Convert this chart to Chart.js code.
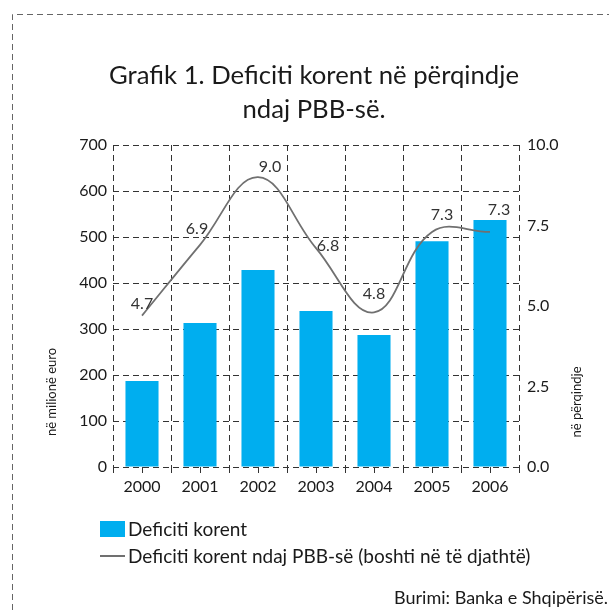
<!DOCTYPE html>
<html>
<head>
<meta charset="utf-8">
<script src="https://cdn.jsdelivr.net/npm/chart.js@4.4.1/dist/chart.umd.min.js"></script>
<style>
  html, body { margin: 0; padding: 0; background: #fff; }
  body { width: 609px; height: 614px; position: relative; overflow: hidden; font-family: Lato, "Noto Sans", sans-serif; color: #1a1a1a; }
  #chart { position: absolute; left: 0; top: 0; }
  .txt { position: absolute; white-space: nowrap; }
  #title { left: 0; width: 628px; top: 57px; text-align: center; font-size: 25.7px; line-height: 34px; }
  #leg { left: 100px; top: 515px; font-size: 19px; line-height: 27px; }
  #leg .row { display: flex; align-items: center; height: 27px; }
  #leg .box { width: 25px; height: 16px; background: #00aeef; margin-right: 3px; }
  #leg .ln { width: 25px; height: 2px; background: #707070; margin-right: 3px; }
  #src { right: 1px; top: 586px; font-size: 18px; }
</style>
</head>
<body>
<canvas id="chart" width="609" height="614"></canvas>
<div id="title" class="txt">Grafik 1. Deficiti korent në përqindje<br>ndaj PBB-së.</div>
<div id="leg" class="txt">
  <div class="row"><span class="box"></span>Deficiti korent</div>
  <div class="row"><span class="ln"></span>Deficiti korent ndaj PBB-së (boshti në të djathtë)</div>
</div>
<div id="src" class="txt">Burimi: Banka e Shqipërisë.</div>
<script>
const vitet = ['2000', '2001', '2002', '2003', '2004', '2005', '2006'];
const deficitiEuro = [187, 313, 428, 339, 287, 491, 537];     // në milionë euro
const deficitiPerqind = [4.7, 6.9, 9.0, 6.8, 4.8, 7.3, 7.3];  // në përqindje të PBB-së
const boshtiMajtas = { min: 0, max: 700, hapi: 100 };
const boshtiDjathtas = { min: 0, max: 10, hapi: 2.5 };

const font = 'Lato, "Noto Sans", sans-serif';
const dash = [6, 4];

// korniza me vija, etiketat e vijes dhe titujt e boshteve
const shtese = {
  id: 'shtese',
  beforeDraw(chart) {
    const c = chart.ctx;
    c.save();
    c.strokeStyle = '#666';
    c.lineWidth = 1;
    c.setLineDash([6, 4]);
    c.beginPath();
    c.moveTo(12.5, 620);
    c.lineTo(12.5, 14.5);
    c.lineTo(620, 14.5);
    c.stroke();
    c.restore();
  },
  afterDraw(chart) {
    const c = chart.ctx;
    const x = chart.scales.x;
    const area = chart.chartArea;
    c.save();
    // vizat e vogla nen kategori
    c.strokeStyle = '#333';
    c.lineWidth = 1;
    vitet.forEach((v, i) => {
      const px = Math.round(x.getPixelForValue(i)) + 0.5;
      c.beginPath();
      c.moveTo(px, area.bottom);
      c.lineTo(px, area.bottom + 6);
      c.stroke();
    });
    // etiketat e vijes
    const offs = [[0, -12], [-3, -16], [12, -10], [12, -2], [0, -19], [10, -17], [9, -22]];
    const meta = chart.getDatasetMeta(1);
    c.fillStyle = '#333';
    c.font = '16px ' + font;
    c.textAlign = 'center';
    c.textBaseline = 'middle';
    meta.data.forEach((p, i) => {
      c.fillText(deficitiPerqind[i].toFixed(1), p.x + offs[i][0], p.y + offs[i][1]);
    });
    // titujt e boshteve
    c.font = '13px ' + font;
    c.fillStyle = '#1a1a1a';
    c.translate(52, 392);
    c.rotate(-Math.PI / 2);
    c.fillText('në milionë euro', 0, 0);
    c.restore();
    c.save();
    c.font = '13px ' + font;
    c.fillStyle = '#1a1a1a';
    c.textAlign = 'center';
    c.textBaseline = 'middle';
    c.translate(577, 402);
    c.rotate(-Math.PI / 2);
    c.fillText('në përqindje', 0, 0);
    c.restore();
  }
};

new Chart(document.getElementById('chart'), {
  data: {
    labels: vitet,
    datasets: [
      {
        type: 'bar',
        label: 'Deficiti korent',
        data: deficitiEuro,
        backgroundColor: '#00aeef',
        categoryPercentage: 1,
        barPercentage: 0.57,
        yAxisID: 'y',
        order: 2
      },
      {
        type: 'line',
        label: 'Deficiti korent ndaj PBB-së (boshti në të djathtë)',
        data: deficitiPerqind,
        borderColor: '#707070',
        borderWidth: 1.8,
        pointRadius: 0,
        tension: 0.4,
        yAxisID: 'y1',
        order: 1
      }
    ]
  },
  options: {
    responsive: false,
    animation: false,
    layout: { padding: { top: 145, left: 0, right: 0, bottom: 117 } },
    plugins: { legend: { display: false }, title: { display: false }, tooltip: { enabled: false } },
    scales: {
      x: {
        afterFit(s) { s.height = 30; },
        grid: { offset: true, color: '#333', lineWidth: 1, borderDash: dash, tickLength: 8, tickBorderDash: dash, tickColor: '#333' },
        border: { display: false, dash: dash },
        ticks: { color: '#1a1a1a', font: { family: font, size: 16 }, padding: 2 }
      },
      y: {
        position: 'left',
        min: boshtiMajtas.min,
        max: boshtiMajtas.max,
        afterFit(s) { s.width = 113; },
        grid: { color: '#333', lineWidth: 1, borderDash: dash, drawTicks: false },
        border: { display: false, dash: dash },
        ticks: { stepSize: boshtiMajtas.hapi, color: '#1a1a1a', font: { family: font, size: 16 }, padding: 6 }
      },
      y1: {
        position: 'right',
        min: boshtiDjathtas.min,
        max: boshtiDjathtas.max,
        afterFit(s) { s.width = 90; },
        grid: { display: false, drawTicks: false },
        border: { display: false },
        ticks: {
          stepSize: boshtiDjathtas.hapi,
          color: '#1a1a1a',
          font: { family: font, size: 16 },
          padding: 8,
          callback: v => v.toFixed(1)
        }
      }
    }
  },
  plugins: [shtese]
});
</script>
</body>
</html>
